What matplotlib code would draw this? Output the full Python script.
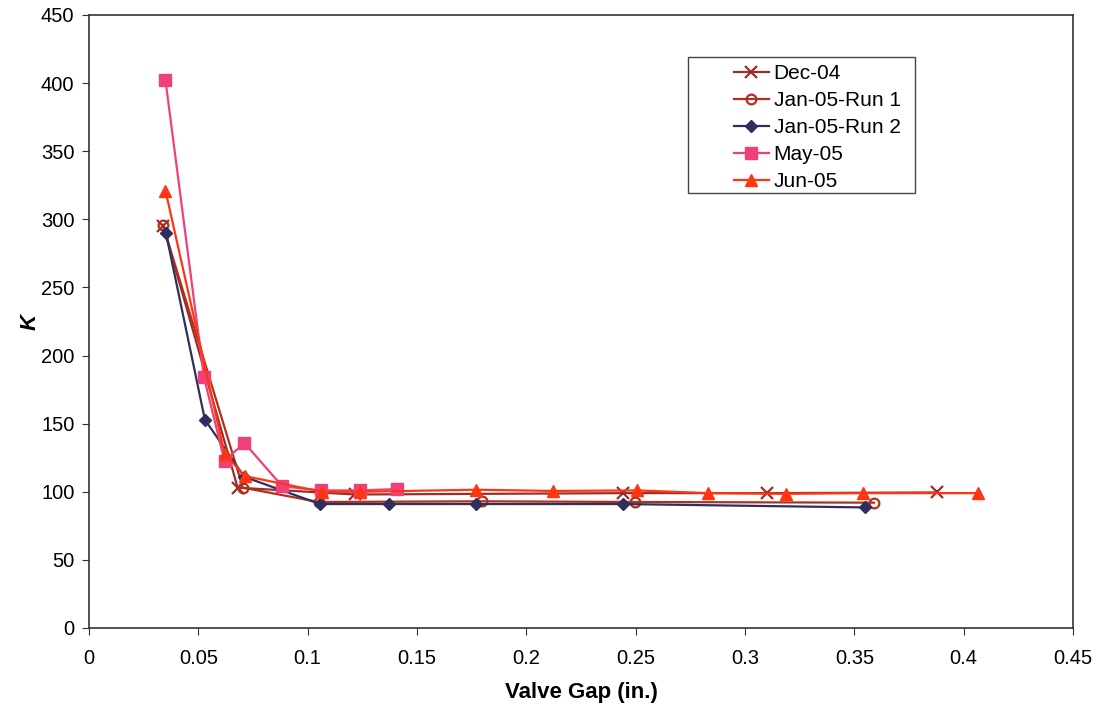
import matplotlib
matplotlib.use("Agg")
import matplotlib.pyplot as plt
from matplotlib.patches import Rectangle

plt.rcParams['font.family'] = ['Liberation Sans', 'DejaVu Sans']

# Data
dec04_x = [0.034, 0.068, 0.1216, 0.244, 0.310, 0.388]
dec04_y = [295, 103, 98, 99, 99, 99.5]

jan1_x = [0.0338, 0.0704, 0.105, 0.1797, 0.2497, 0.359]
jan1_y = [296, 103, 92.5, 93, 92.5, 92]

jan2_x = [0.0352, 0.053, 0.071, 0.1056, 0.137, 0.177, 0.244, 0.355]
jan2_y = [290, 153, 111, 91, 91, 91, 91, 88.5]

may05_x = [0.035, 0.0526, 0.062, 0.071, 0.0884, 0.106, 0.124, 0.141]
may05_y = [402, 184, 122.5, 136, 104, 101, 101, 102]

jun05_x = [0.035, 0.062, 0.0713, 0.1065, 0.124, 0.177, 0.212, 0.2506, 0.283, 0.3187, 0.354, 0.4066]
jun05_y = [321, 128, 111.5, 100, 100, 101.5, 100.6, 101, 99, 98.5, 99, 99]

fig = plt.figure(figsize=(11.01, 7.10), dpi=100)
ax = fig.add_axes([0.0808, 0.1155, 0.8938, 0.8634])

ax.plot(dec04_x, dec04_y, color='#9b2d2a', lw=1.6, marker='x', ms=8, mew=1.6, label='Dec-04')
ax.plot(jan1_x, jan1_y, color='#b0301e', lw=1.6, marker='o', ms=7, mfc='none', mew=1.6, label='Jan-05-Run 1')
ax.plot(jan2_x, jan2_y, color='#2e2f5e', lw=1.6, marker='D', ms=6, label='Jan-05-Run 2')
ax.plot(may05_x, may05_y, color='#f0407c', lw=1.6, marker='s', ms=8, label='May-05')
ax.plot(jun05_x, jun05_y, color='#ff3512', lw=1.6, marker='^', ms=9, label='Jun-05')

ax.set_xlim(0, 0.45)
ax.set_ylim(0, 450)
ax.set_xticks([0, 0.05, 0.1, 0.15, 0.2, 0.25, 0.3, 0.35, 0.4, 0.45])
ax.set_xticklabels(['0', '0.05', '0.1', '0.15', '0.2', '0.25', '0.3', '0.35', '0.4', '0.45'])
ax.set_yticks(range(0, 451, 50))
ax.tick_params(labelsize=14.5, direction='out', length=5, color='#333333')
ax.tick_params(axis='x', pad=10)
ax.tick_params(axis='y', pad=5.5)
for s in ax.spines.values():
    s.set_color('#333333')
    s.set_linewidth(1.2)

ax.set_xlabel('Valve Gap (in.)', fontsize=16, fontweight='bold', labelpad=10)
ax.set_ylabel('K', fontsize=16, fontweight='bold', style='italic', labelpad=0)

# Excel-style legend box: frame drawn separately for the wide left padding
ax.add_patch(Rectangle((0.6087, 0.7096), 0.2303, 0.2219, transform=ax.transAxes,
                       facecolor='white', edgecolor='#444444', lw=1.0, zorder=4))
leg = ax.legend(loc='upper left', bbox_to_anchor=(0.6444, 0.9364), fontsize=15,
                frameon=False, borderpad=0, labelspacing=0.38,
                handlelength=1.68, handletextpad=0.25)
leg.set_zorder(5)

fig.savefig('out.png', dpi=100)
